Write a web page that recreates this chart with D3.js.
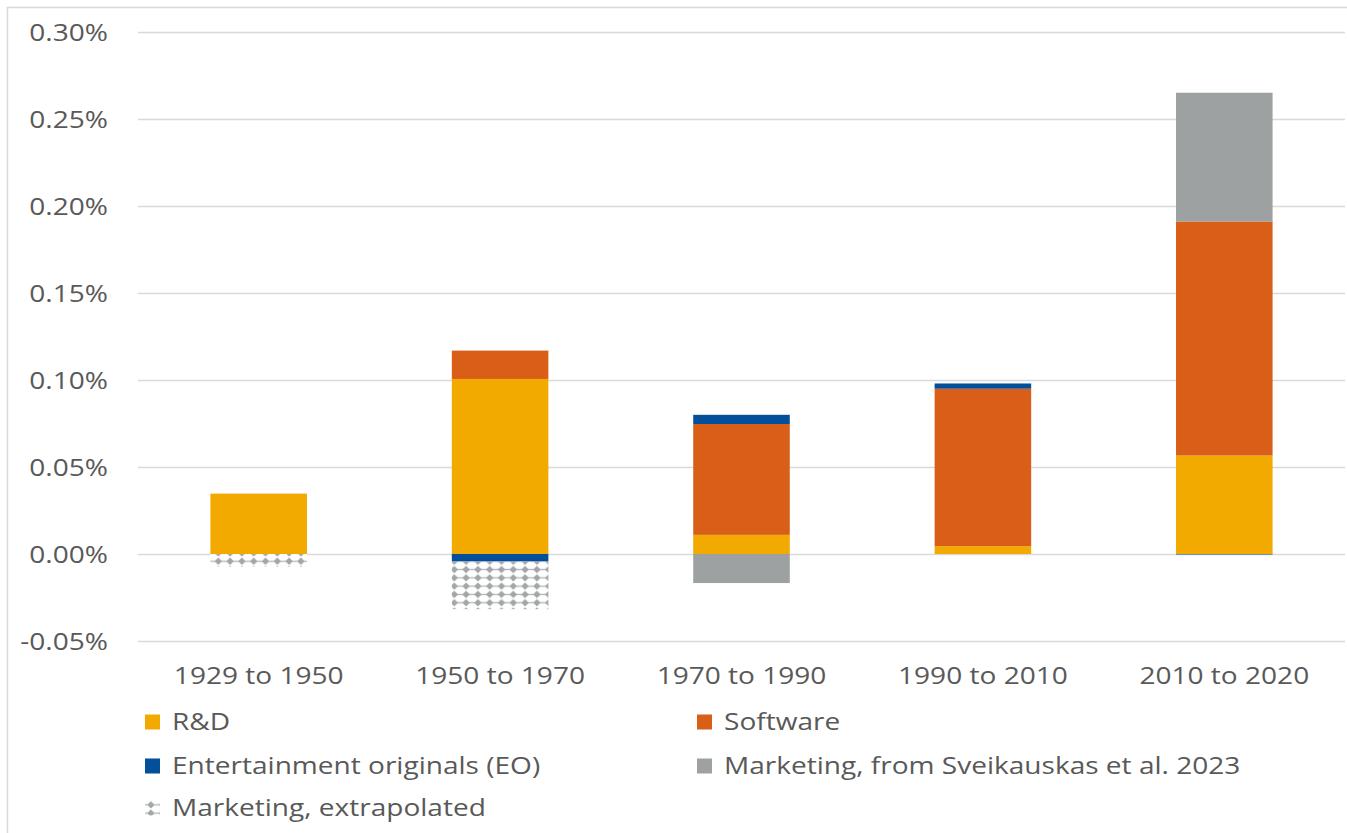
<!DOCTYPE html>
<html><head><meta charset="utf-8">
<script src="https://cdn.jsdelivr.net/npm/d3@7"></script>
<style>
html,body{margin:0;padding:0;background:#fff;}
svg text{font-family:"Open Sans",sans-serif;fill:#595959;}
</style></head>
<body>
<svg id="chart" width="1347" height="833"></svg>
<script>
const categories = ["1929 to 1950","1950 to 1970","1970 to 1990","1990 to 2010","2010 to 2020"];
const rd        = [0.0347, 0.1006, 0.0110, 0.0045, 0.0566];
const software  = [0.0000, 0.0163, 0.0637, 0.0905, 0.1345];
const eo        = [0.0000, -0.0043, 0.0053, 0.0030, -0.0003];
const marketing = [0.0000, 0.0000, -0.0167, 0.0000, 0.0740];
const mktExtrap = [-0.0073, -0.0274, 0.0000, 0.0000, 0.0000];
const yTicks = [-0.05, 0, 0.05, 0.10, 0.15, 0.20, 0.25, 0.30];

const seriesNames = ["R&D","Software","Entertainment originals (EO)","Marketing, from Sveikauskas et al. 2023","Marketing, extrapolated"];
const seriesKeys = ["rd","software","eo","marketing","mktExtrap"];
const colors = {rd:"#f2a900", software:"#d95f19", eo:"#044f9a", marketing:"#9ea1a1", mktExtrap:"url(#dots)"};

const rows = categories.map((c,i)=>({cat:c, rd:rd[i], software:software[i], eo:eo[i], marketing:marketing[i], mktExtrap:mktExtrap[i]}));

const TX = "scale(1.22,1)";
const svg = d3.select("#chart");
const defs = svg.append("defs");
const pat = defs.append("pattern").attr("id","dots").attr("patternUnits","userSpaceOnUse")
  .attr("width",11.8).attr("height",8.3).attr("y",1);
pat.append("rect").attr("width",11.8).attr("height",8.3).attr("fill","#fff");
pat.append("rect").attr("x",0).attr("y",3.5).attr("width",11.8).attr("height",1.3).attr("fill","#b4b7b7");
pat.append("path").attr("d","M5.9,0.4 L9.6,4.15 L5.9,7.9 L2.2,4.15 Z").attr("fill","#a3a6a6");

// border
svg.append("rect").attr("x",7.5).attr("y",7.5).attr("width",1400).attr("height",900)
  .attr("fill","none").attr("stroke","#d9d9d9").attr("stroke-width",1.5);

const x = d3.scaleBand().domain(categories).range([138,1345]).paddingInner(0.6).paddingOuter(0.3);
const y = d3.scaleLinear().domain([-0.05,0.30]).range([641,32]);

// gridlines
svg.append("g").selectAll("line").data(yTicks).join("line")
  .attr("x1",138).attr("x2",1345)
  .attr("y1",d=>Math.round(y(d))+0.5).attr("y2",d=>Math.round(y(d))+0.5)
  .attr("stroke","#d9d9d9").attr("stroke-width",1.5);

// y axis labels
const yAxis = d3.axisLeft(y).tickValues(yTicks).tickFormat(d=>d3.format(".2f")(d).replace("−","-")+"%").tickSize(0).tickPadding(0);
const ya = svg.append("g").attr("transform","translate(108,0)").call(yAxis);
ya.select(".domain").remove();
ya.selectAll("text").attr("x",0).attr("font-size",23).attr("font-family","Open Sans").attr("fill","#595959").attr("dy","0.35em").attr("transform",TX);

// stacks
const stack = d3.stack().keys(seriesKeys).offset(d3.stackOffsetDiverging);
const stacked = stack(rows);
svg.append("g").selectAll("g").data(stacked).join("g")
  .attr("fill",d=>colors[d.key])
  .selectAll("rect").data(d=>d.filter(p=>p[1]!==p[0])).join("rect")
  .attr("x",d=>x(d.data.cat))
  .attr("width",x.bandwidth())
  .attr("y",d=>y(Math.max(d[0],d[1])))
  .attr("height",d=>Math.abs(y(d[0])-y(d[1])));

// x axis labels
const xAxis = d3.axisBottom(x).tickSize(0).tickPadding(0);
const xa = svg.append("g").attr("transform","translate(0,676)").call(xAxis);
xa.select(".domain").remove();
xa.selectAll("text").attr("y",0).attr("font-size",23).attr("font-family","Open Sans").attr("fill","#595959").attr("dy","0.35em").attr("transform",TX);

// legend
const legendPos = [[145,722],[697,722],[145,766],[697,766],[145,808]];
const lg = svg.append("g").selectAll("g").data(seriesKeys).join("g")
  .attr("transform",(d,i)=>`translate(${legendPos[i][0]},${legendPos[i][1]})`);
lg.append("rect").attr("x",0).attr("y",-7.5).attr("width",15).attr("height",15)
  .attr("fill",d=>colors[d]);
lg.append("text").attr("transform","translate(27,0) "+TX).attr("dy","0.35em").attr("font-size",23)
  .text((d,i)=>seriesNames[i]);
</script>
</body></html>
